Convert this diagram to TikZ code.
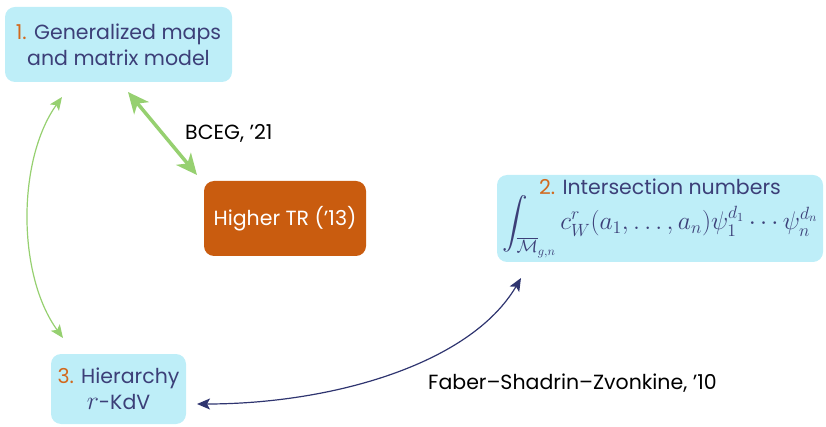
\documentclass[tikz,border=0pt]{standalone}
\usepackage{amsmath}
\usepackage{graphicx}
\usepackage{fontspec}
\setmainfont{Poppins}
\usetikzlibrary{arrows.meta}
\definecolor{boxcyan}{HTML}{BEEEF8}
\definecolor{boxorange}{HTML}{C95C0F}
\definecolor{numorange}{HTML}{D2691E}
\definecolor{navy}{HTML}{3C3F78}
\definecolor{arrownavy}{HTML}{2F3570}
\definecolor{leafgreen}{HTML}{96D070}
\newcommand{\bigmath}[2][1.23]{\scalebox{#1}{#2}}
\begin{document}
\begin{tikzpicture}[x=1pt,y=-1pt,
  topic/.style={fill=boxcyan, rounded corners=10pt, text=navy, align=center,
    font=\fontsize{20.5}{26}\selectfont, inner sep=0pt},
  hot/.style={fill=boxorange, rounded corners=10pt, text=white, align=center,
    font=\fontsize{20.5}{26}\selectfont, inner sep=0pt},
  lbl/.style={text=black, font=\fontsize{20.5}{24}\selectfont, inner sep=0pt},
  bigtip/.style={leafgreen, line width=3.5pt,
    {Stealth[length=21pt,width=19pt,inset=6pt]}-{Stealth[length=21pt,width=19pt,inset=6pt]}},
  thintip/.style={line width=1.2pt,
    {Stealth[length=13pt,width=11pt,inset=3pt]}-{Stealth[length=13pt,width=11pt,inset=3pt]}}]
\useasboundingbox (0,0) rectangle (826,427);

\node[topic, minimum width=227pt, minimum height=75pt] (maps) at (118.5,44.5)
  {{\color{numorange}1.} Generalized maps\\and matrix model};
\node[hot, minimum width=162pt, minimum height=75pt] (htr) at (285,218.5)
  {Higher TR ('13)};
\node[topic, minimum width=326pt, minimum height=87pt] (inter) at (660,218.5)
  {{\color{numorange}2.} Intersection numbers\\[-1pt]
   \bigmath{$\displaystyle\int_{\overline{\mathcal{M}}_{g,n}} c_W^r(a_1,\dots,a_n)\psi_1^{d_1}\cdots\psi_n^{d_n}$}};
\node[topic, minimum width=135pt, minimum height=70pt] (kdv) at (118.5,389)
  {{\color{numorange}3.} Hierarchy\\\bigmath[1.25]{$r$}-KdV};

% thick link between maps and higher TR
\coordinate (a1) at (128,92);
\coordinate (a2) at (197,175);
\draw[bigtip] (a1) -- (a2);
\node[lbl, anchor=west] (bceg) at (185,133) {BCEG, '21};

% thin arc between maps and hierarchy
\coordinate (b1) at (62,97);
\coordinate (b2) at (63,338);
\draw[leafgreen, thintip] (b1) .. controls (17,160) and (17,275) .. (b2);

% arc between hierarchy and intersection numbers
\coordinate (c1) at (197,404);
\coordinate (c2) at (521,278);
\draw[arrownavy, thintip] (c1) .. controls (330,404) and (470,365) .. (c2);
\node[lbl, anchor=west] (fsz) at (428,383) {Faber--Shadrin--Zvonkine, '10};
\end{tikzpicture}
\end{document}
